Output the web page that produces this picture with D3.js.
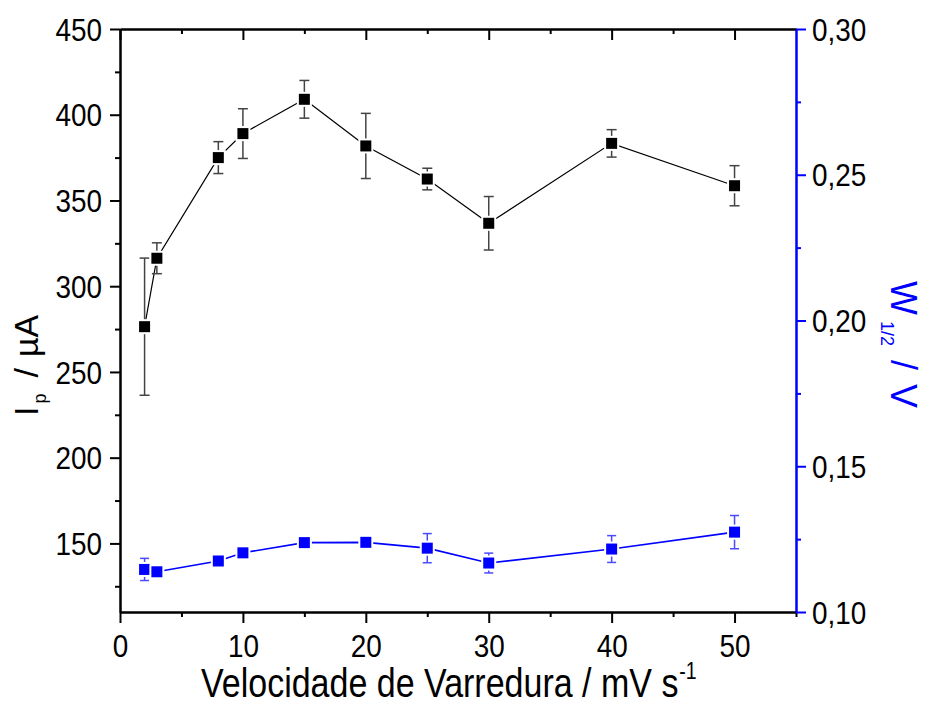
<!DOCTYPE html>
<html>
<head>
<meta charset="utf-8">
<script src="https://cdn.jsdelivr.net/npm/d3@7"></script>
<style>
  html, body { margin: 0; padding: 0; background: #fff; }
  svg { display: block; font-family: "Liberation Sans", Arial, sans-serif; }
</style>
</head>
<body>
<svg id="chart" width="925" height="706"></svg>
<script>
// ---- data ----
const scanRate = [2, 3, 8, 10, 15, 20, 25, 30, 40, 50];
const ip       = [276.4, 316.3, 375.0, 389.0, 409.0, 381.8, 362.5, 336.7, 383.3, 358.6];
const ipErr    = [40.0, 9.0, 9.3, 14.5, 11.0, 19.0, 6.3, 15.6, 8.0, 11.7];
const w12      = [0.1146, 0.1138, 0.1175, 0.1203, 0.1238, 0.1239, 0.1219, 0.1168, 0.1216, 0.1274];
const w12Err   = [0.0038, 0.0010, 0.0010, 0.0010, 0.0010, 0.0010, 0.0050, 0.0034, 0.0046, 0.0057];

const xMajorTicks = [0, 10, 20, 30, 40, 50];
const xMinorTicks = [5, 15, 25, 35, 45, 55];
const yLeftMajorTicks = [150, 200, 250, 300, 350, 400, 450];
const yLeftMinorTicks = [125, 175, 225, 275, 325, 375, 425];
const yRightMajorTicks = [0.10, 0.15, 0.20, 0.25, 0.30];
const yRightMinorTicks = [0.125, 0.175, 0.225, 0.275];

// ---- layout ----
const L = 120, R = 796, T = 29, B = 612;
const BLUE = "#0000ff";
const SX = 0.9;               // slight horizontal condensing of tick labels
const FONT = "Liberation Sans, Arial, sans-serif";
const svg = d3.select("#chart");

const x = d3.scaleLinear().domain([0, 55]).range([L, R]);
const yL = d3.scaleLinear().domain([110, 450]).range([B, T]);
const yR = d3.scaleLinear().domain([0.10, 0.30]).range([B, T]);

const commaFmt = v => d3.format(".2f")(v).replace(".", ",");

function styleAxis(g, color) {
  g.select(".domain").attr("stroke", color).attr("stroke-width", 2);
  g.selectAll(".tick line").attr("stroke", color).attr("stroke-width", 2);
}

// minor ticks
svg.append("g").attr("transform", `translate(0,${B})`)
  .call(d3.axisBottom(x).tickValues(xMinorTicks).tickSize(5).tickSizeOuter(0).tickFormat(""))
  .call(g => styleAxis(g, "#000"));
svg.append("g").attr("transform", `translate(0,${T})`)
  .call(d3.axisTop(x).tickValues(xMinorTicks.filter(v => v < 55)).tickSize(-5).tickSizeOuter(0).tickFormat(""))
  .call(g => styleAxis(g, "#000"));
svg.append("g").attr("transform", `translate(${L},0)`)
  .call(d3.axisLeft(yL).tickValues(yLeftMinorTicks).tickSize(5).tickSizeOuter(0).tickFormat(""))
  .call(g => styleAxis(g, "#000"));
svg.append("g").attr("transform", `translate(${R},0)`)
  .call(d3.axisRight(yR).tickValues(yRightMinorTicks).tickSize(5).tickSizeOuter(0).tickFormat(""))
  .call(g => styleAxis(g, BLUE));

// major ticks + labels
svg.append("g").attr("transform", `translate(0,${B})`)
  .call(d3.axisBottom(x).tickValues(xMajorTicks).tickSize(11).tickSizeOuter(0).tickFormat(d3.format("d")))
  .call(g => styleAxis(g, "#000"))
  .call(g => g.selectAll(".tick text").attr("y", 45).attr("dy", 0)
    .attr("transform", `scale(${SX},1)`)
    .attr("font-size", 31).attr("fill", "#000").attr("font-family", FONT));

svg.append("g").attr("transform", `translate(0,${T})`)
  .call(d3.axisTop(x).tickValues(xMajorTicks).tickSize(-11).tickSizeOuter(0).tickFormat(""))
  .call(g => styleAxis(g, "#000"));

svg.append("g").attr("transform", `translate(${L},0)`)
  .call(d3.axisLeft(yL).tickValues(yLeftMajorTicks).tickSize(10).tickSizeOuter(0).tickFormat(d3.format("d")))
  .call(g => styleAxis(g, "#000"))
  .call(g => g.selectAll(".tick text").attr("x", -18 / SX).attr("dy", "0.36em")
    .attr("transform", `scale(${SX},1)`)
    .attr("font-size", 31).attr("fill", "#000").attr("font-family", FONT));

svg.append("g").attr("transform", `translate(${R},0)`)
  .call(d3.axisRight(yR).tickValues(yRightMajorTicks).tickSize(10).tickSizeOuter(0).tickFormat(commaFmt))
  .call(g => styleAxis(g, BLUE))
  .call(g => g.selectAll(".tick text").attr("x", 16 / SX).attr("dy", "0.36em")
    .attr("transform", `scale(${SX},1)`)
    .attr("font-size", 31).attr("fill", "#000").attr("font-family", FONT));

// ---- series ----
function drawSeries(vals, errs, yScale, color, errColor, lineW, cap) {
  const pts = scanRate.map((s, i) => ({ s, v: vals[i], e: errs[i] }));
  const g = svg.append("g");
  g.append("path").datum(pts)
    .attr("fill", "none").attr("stroke", color).attr("stroke-width", lineW)
    .attr("d", d3.line().x(d => x(d.s)).y(d => yScale(d.v)));
  const eb = g.selectAll(".eb").data(pts).enter().append("g")
    .attr("stroke", errColor).attr("stroke-width", 1.5);
  eb.append("line").attr("x1", d => x(d.s)).attr("x2", d => x(d.s))
    .attr("y1", d => yScale(d.v - d.e)).attr("y2", d => yScale(d.v + d.e));
  eb.append("line").attr("x1", d => x(d.s) - cap).attr("x2", d => x(d.s) + cap)
    .attr("y1", d => yScale(d.v + d.e)).attr("y2", d => yScale(d.v + d.e));
  eb.append("line").attr("x1", d => x(d.s) - cap).attr("x2", d => x(d.s) + cap)
    .attr("y1", d => yScale(d.v - d.e)).attr("y2", d => yScale(d.v - d.e));
  const sz = 13;
  g.selectAll(".mk").data(pts).enter().append("rect")
    .attr("x", d => x(d.s) - sz / 2).attr("y", d => yScale(d.v) - sz / 2)
    .attr("width", sz).attr("height", sz)
    .attr("fill", color).attr("stroke", "#fff").attr("stroke-width", 2);
}

drawSeries(ip, ipErr, yL, "#000", "#444", 1.2, 5);
drawSeries(w12, w12Err, yR, BLUE, "#4a4aff", 1.6, 4.5);

// ---- titles ----
const xt = svg.append("text").attr("transform", "translate(201,697) scale(0.85,1)")
  .attr("font-size", 40).attr("fill", "#000");
xt.append("tspan").text("Velocidade de Varredura / mV s");
xt.append("tspan").attr("font-size", 23).attr("dy", -18).attr("dx", 1).text("-1");

const lt = svg.append("text").attr("transform", "translate(38,416) rotate(-90)")
  .attr("font-size", 34).attr("fill", "#000");
lt.append("tspan").text("I");
lt.append("tspan").attr("font-size", 18).attr("dy", 8).attr("dx", 3).text("p");
lt.append("tspan").attr("dy", -8).attr("dx", 16).text("/");
lt.append("tspan").attr("dx", 11).text("µA");

const rt = svg.append("text").attr("transform", "translate(891,281) rotate(90)")
  .attr("font-size", 36).attr("fill", BLUE);
rt.append("tspan").text("W");
rt.append("tspan").attr("font-size", 18).attr("dy", 10).attr("dx", 6).text("1/2");
rt.append("tspan").attr("dy", -10).attr("dx", 14).text("/");
rt.append("tspan").attr("dx", 14).text("V");
</script>
</body>
</html>
